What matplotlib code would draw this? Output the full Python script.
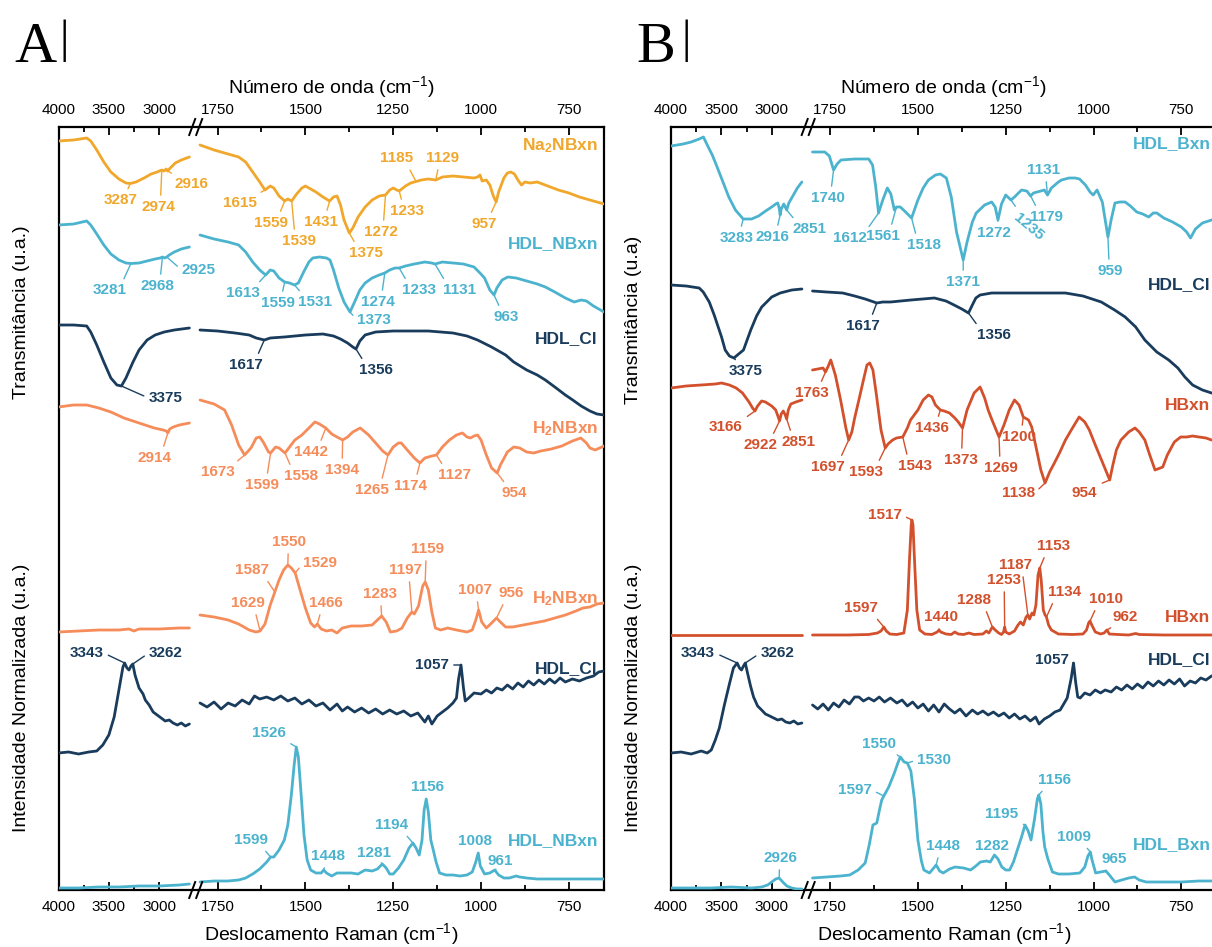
import numpy as np
import matplotlib
matplotlib.use("Agg")
import matplotlib.pyplot as plt

plt.rcParams.update({
    "font.family": ["Liberation Sans", "DejaVu Sans"],
    "mathtext.fontset": "custom",
    "mathtext.rm": "Liberation Sans",
    "mathtext.bf": "Liberation Sans:bold",
    "mathtext.it": "Liberation Sans:italic",
    "mathtext.default": "regular",
})

# ------------------------------------------------------------------
# Spectra (wavenumber / Raman shift in cm-1, intensity in a.u.)
# ------------------------------------------------------------------

# ---- Panel A : FTIR ----
na2_ir_hi_wn = [4000, 3850, 3720, 3680, 3620, 3550, 3480, 3400, 3330, 3287, 3230, 3150, 3080,
                3020, 2974, 2950, 2930, 2916, 2890, 2840, 2780, 2700]
na2_ir_hi_t = [94, 95, 97, 94, 85, 73, 63, 56, 52, 51.5, 53, 57, 61, 63, 65, 64, 66, 64, 67, 72, 75, 78]
na2_ir_lo_wn = [1800, 1760, 1720, 1690, 1670, 1650, 1630, 1615, 1600, 1590, 1575, 1559, 1550, 1539,
                1525, 1510, 1500, 1490, 1470, 1450, 1431, 1420, 1410, 1400, 1390, 1375, 1365, 1350,
                1330, 1310, 1290, 1272, 1260, 1250, 1240, 1233, 1215, 1200, 1185, 1170, 1150, 1129,
                1110, 1080, 1050, 1020, 1010, 1003, 997, 985, 975, 965, 957, 950, 935, 925, 915, 905,
                895, 885, 875, 860, 840, 810, 780, 750, 720, 690, 650]
na2_ir_lo_t = [90, 85, 81, 78, 73, 63, 53, 45, 49, 47, 39, 34, 36, 34, 41, 47, 49, 47, 43, 38, 34,
               38, 39, 30, 15, 2, 7, 18, 28, 35, 39, 40, 45, 47, 45, 44, 49, 52, 53.5, 55, 56, 55, 58,
               59, 58, 57, 58, 60, 54, 55, 50, 39, 33, 43, 57, 62, 63, 61, 55, 50, 53, 52, 53, 49, 45,
               42, 38, 35, 31]
na2_ir_peaks = [3287, 2974, 2916, 1615, 1559, 1539, 1431, 1375, 1272, 1233, 1185, 1129, 957]

hdlnb_ir_hi_wn = [4000, 3850, 3720, 3680, 3620, 3550, 3480, 3400, 3330, 3281, 3200, 3120, 3040, 2990,
                  2968, 2945, 2925, 2900, 2850, 2780, 2700]
hdlnb_ir_hi_t = [90, 91, 94, 90, 81, 70, 61, 55, 52, 51.5, 52, 54, 56, 57, 58, 57, 58, 60, 63, 66, 68]
hdlnb_ir_lo_wn = [1800, 1760, 1720, 1690, 1670, 1650, 1630, 1613, 1600, 1590, 1575, 1559, 1545, 1531,
                  1520, 1505, 1490, 1479, 1460, 1440, 1430, 1420, 1405, 1390, 1373, 1360, 1345, 1330,
                  1310, 1290, 1274, 1260, 1245, 1233, 1215, 1190, 1160, 1140, 1131, 1110, 1080, 1050,
                  1020, 1003, 990, 975, 963, 955, 940, 924, 900, 870, 840, 817, 790, 760, 735, 715,
                  700, 680, 650]
hdlnb_ir_lo_t = [80, 76, 73, 70, 63, 53, 45, 40, 45, 44, 37, 33, 32, 30, 32, 43, 53, 57, 58, 57, 55,
                 45, 27, 13, 3, 13, 25, 32, 37, 40, 42, 45, 47, 47, 49, 51, 53, 52, 51, 53, 52, 51, 48,
                 42, 37, 25, 20, 27, 35, 38, 37, 34, 31, 28, 23, 17, 13, 15, 14, 9, 3]
hdlnb_ir_peaks = [3281, 2968, 2925, 1613, 1559, 1531, 1373, 1274, 1233, 1131, 963]

cl_ir_hi_wn = [4000, 3850, 3720, 3680, 3620, 3550, 3480, 3420, 3375, 3330, 3260, 3200, 3120, 3040,
               2950, 2850, 2700]
cl_ir_hi_t = [91, 91, 90, 84, 71, 54, 38, 31, 30, 38, 54, 66, 76, 81, 84, 86, 88]
cl_ir_lo_wn = [1800, 1750, 1700, 1660, 1640, 1617, 1600, 1560, 1500, 1450, 1420, 1400, 1380, 1365,
               1356, 1345, 1330, 1300, 1250, 1150, 1080, 1040, 1010, 970, 930, 907, 870, 840, 817,
               790, 760, 739, 715, 690, 670, 650]
cl_ir_lo_t = [86, 85, 83, 81, 78, 76, 78, 79, 81, 82, 80, 77, 73, 69, 67, 75, 81, 84, 85, 85, 83, 80,
              76, 69, 61, 54, 46, 41, 36, 29, 21, 16, 10, 5, 2, 1]
cl_ir_peaks_a = [3375, 1617, 1356]

h2_ir_hi_wn = [4000, 3850, 3720, 3600, 3480, 3350, 3200, 3050, 2960, 2930, 2914, 2895, 2860, 2800, 2700]
h2_ir_hi_t = [68, 70, 70, 67, 63, 57, 52, 47, 45, 44, 42, 46, 48, 50, 52]
h2_ir_lo_wn = [1800, 1760, 1730, 1710, 1690, 1673, 1655, 1640, 1630, 1620, 1605, 1599, 1585, 1575,
               1558, 1545, 1530, 1510, 1490, 1473, 1460, 1442, 1425, 1410, 1394, 1380, 1365, 1344,
               1320, 1300, 1280, 1265, 1250, 1235, 1227, 1210, 1190, 1174, 1160, 1140, 1127, 1110,
               1090, 1070, 1053, 1040, 1030, 1020, 1010, 1000, 985, 970, 954, 945, 925, 907, 890,
               870, 850, 830, 800, 770, 740, 716, 700, 690, 675, 650]
h2_ir_lo_t = [75, 71, 65, 50, 30, 20, 27, 37, 38, 33, 23, 22, 28, 27, 22, 28, 35, 40, 47, 53, 51, 47,
              41, 38, 35, 38, 43, 47, 40, 32, 24, 20, 28, 32, 32, 25, 17, 12, 17, 19, 20, 28, 35, 40,
              42, 38, 37, 39, 40, 35, 20, 7, 2, 10, 23, 28, 27, 23, 22, 24, 26, 29, 34, 37, 32, 27,
              25, 29]
h2_ir_peaks = [2914, 1673, 1599, 1558, 1442, 1394, 1265, 1174, 1127, 954]

# ---- Panel A : Raman ----
h2_ra_hi_wn = [4000, 3800, 3600, 3400, 3300, 3250, 3200, 3000, 2800, 2700]
h2_ra_hi_i = [2, 3, 4, 4, 5, 3, 5, 5, 6, 6]
h2_ra_lo_wn = [1800, 1760, 1720, 1690, 1660, 1641, 1629, 1615, 1600, 1587, 1575, 1562, 1550, 1540,
               1529, 1515, 1500, 1485, 1474, 1466, 1455, 1440, 1425, 1410, 1395, 1370, 1340, 1310,
               1295, 1283, 1270, 1258, 1240, 1225, 1210, 1197, 1190, 1178, 1166, 1159, 1150, 1140,
               1130, 1115, 1095, 1070, 1040, 1025, 1015, 1007, 998, 985, 970, 956, 945, 930, 910,
               880, 850, 820, 790, 760, 730, 710, 690, 670, 650]
h2_ra_lo_i = [19, 17, 14, 10, 4, 2, 3, 10, 29, 42, 54, 64, 69, 66, 61, 44, 26, 11, 7, 10, 5, 3, 4, 1,
              6, 8, 8, 9, 14, 18, 12, 2, 3, 6, 16, 22, 20, 28, 48, 52, 44, 22, 6, 4, 6, 4, 2, 4, 14,
              24, 12, 6, 11, 16, 12, 7, 7, 9, 11, 13, 16, 19, 23, 26, 27, 30, 31]
h2_ra_peaks = [1629, 1587, 1550, 1529, 1466, 1283, 1197, 1159, 1007, 956]

cl_ra_hi_wn_a = [4000, 3900, 3800, 3700, 3620, 3560, 3500, 3447, 3400, 3360, 3343, 3320, 3300, 3280,
                 3262, 3240, 3200, 3160, 3138, 3100, 3060, 3020, 2980, 2940, 2900, 2862, 2820, 2780,
                 2740, 2700]
cl_ra_hi_i_a = [1, 2, 0, 2, 3, 9, 19, 37, 64, 87, 91, 86, 84, 88, 90, 79, 66, 60, 54, 49, 42, 39, 36,
                33, 34, 31, 29, 31, 28, 30]
cl_ra_lo_wn_a = [1800, 1780, 1760, 1740, 1720, 1700, 1680, 1660, 1645, 1630, 1610, 1590, 1570, 1550,
                 1530, 1510, 1490, 1470, 1450, 1430, 1410, 1395, 1380, 1360, 1340, 1320, 1300, 1280,
                 1260, 1240, 1220, 1200, 1180, 1160, 1150, 1140, 1125, 1110, 1095, 1080, 1070, 1064,
                 1057, 1050, 1045, 1035, 1020, 1000, 985, 970, 955, 940, 925, 910, 895, 880, 865, 850,
                 835, 820, 805, 790, 775, 760, 740, 720, 700, 680, 665, 650]
cl_ra_lo_i_a = [51, 47, 52, 45, 51, 48, 54, 50, 58, 55, 57, 54, 58, 53, 56, 50, 54, 48, 51, 44, 50,
                43, 47, 42, 46, 41, 45, 40, 44, 40, 43, 38, 41, 32, 38, 30, 38, 42, 46, 51, 56, 75,
                89, 66, 53, 56, 61, 60, 64, 61, 66, 64, 69, 65, 71, 67, 73, 69, 74, 70, 75, 71, 76,
                72, 75, 73, 76, 78, 82, 83]
cl_ra_peaks_a = [3343, 3262, 1057]

hdlnb_ra_hi_wn = [4000, 3800, 3600, 3400, 3200, 3000, 2800, 2700]
hdlnb_ra_hi_i = [1, 1, 2, 2, 3, 3, 4, 5]
hdlnb_ra_lo_wn = [1800, 1760, 1720, 1690, 1670, 1650, 1630, 1610, 1599, 1590, 1575, 1560, 1550, 1540,
                  1532, 1526, 1520, 1512, 1504, 1495, 1485, 1470, 1455, 1448, 1440, 1425, 1410, 1390,
                  1370, 1350, 1330, 1310, 1295, 1281, 1270, 1260, 1250, 1235, 1220, 1205, 1194, 1185,
                  1176, 1168, 1162, 1156, 1150, 1143, 1136, 1128, 1118, 1100, 1080, 1060, 1040, 1025,
                  1015, 1008, 1002, 990, 975, 961, 950, 935, 920, 900, 890, 870, 840, 800, 750, 700,
                  650]
hdlnb_ra_lo_i = [7, 8, 8, 9, 11, 15, 20, 27, 32, 32, 39, 49, 64, 94, 124, 142, 132, 94, 54, 29, 19,
                 16, 16, 19, 16, 13, 16, 16, 16, 15, 19, 18, 20, 25, 21, 15, 15, 21, 29, 41, 46, 41,
                 34, 49, 79, 90, 77, 49, 39, 27, 16, 14, 14, 13, 14, 17, 27, 36, 23, 15, 16, 19, 14,
                 11, 11, 13, 12, 11, 10, 10, 10, 10, 10]
hdlnb_ra_peaks = [1599, 1526, 1448, 1281, 1194, 1156, 1008, 961]

# ---- Panel B : FTIR ----
hdlb_ir_hi_wn = [4000, 3880, 3800, 3720, 3678, 3640, 3590, 3542, 3480, 3426, 3360, 3283, 3200, 3130,
                 3060, 3000, 2960, 2940, 2925, 2916, 2905, 2880, 2865, 2851, 2830, 2790, 2745, 2700]
hdlb_ir_hi_t = [116, 118, 120, 123, 125, 117, 107, 95, 79, 65, 52, 43, 43, 46, 51, 55, 58, 59, 54, 47,
                53, 58, 55, 52, 59, 66, 74, 80]
hdlb_ir_lo_wn = [1800, 1765, 1752, 1740, 1730, 1719, 1680, 1640, 1629, 1620, 1612, 1600, 1587, 1577,
                 1567, 1561, 1550, 1535, 1518, 1500, 1485, 1470, 1450, 1436, 1419, 1405, 1390, 1371,
                 1360, 1345, 1334, 1310, 1290, 1280, 1272, 1262, 1250, 1235, 1225, 1205, 1190, 1179,
                 1171, 1150, 1140, 1131, 1120, 1100, 1091, 1070, 1052, 1040, 1023, 1010, 1001, 990,
                 975, 959, 950, 939, 925, 910, 895, 877, 860, 843, 830, 820, 800, 775, 750, 735, 724,
                 710, 690, 664, 650]
hdlb_ir_lo_t = [110, 110, 106, 92, 98, 102, 103, 103, 97, 75, 49, 62, 74, 68, 52, 55, 55, 50, 44, 62,
                74, 82, 87, 88, 84, 65, 30, 2, 20, 40, 49, 57, 60, 55, 42, 58, 67, 62, 65, 72, 71,
                66, 69, 71, 72, 67, 74, 80, 82, 84, 84, 83, 77, 70, 67, 72, 60, 25, 42, 59, 60, 60,
                56, 50, 48, 45, 49, 49, 44, 40, 35, 30, 24, 33, 39, 42, 44]
hdlb_ir_peaks = [3283, 2916, 2851, 1740, 1612, 1561, 1518, 1371, 1272, 1235, 1179, 1131, 959]

cl_ir_hi_wn_b = [4000, 3850, 3720, 3680, 3620, 3571, 3498, 3462, 3420, 3375, 3340, 3280, 3208, 3150,
                 3099, 3000, 2916, 2800, 2700]
cl_ir_hi_t_b = [110, 109, 107, 103, 93, 80, 58, 45, 39, 37, 40, 45, 65, 79, 88, 98, 102, 105, 106]
cl_ir_lo_wn_b = [1800, 1760, 1714, 1680, 1650, 1617, 1600, 1578, 1520, 1453, 1420, 1397, 1375, 1356,
                 1345, 1335, 1323, 1290, 1250, 1150, 1080, 1030, 978, 940, 910, 880, 854, 820, 786,
                 760, 740, 718, 690, 664, 650]
cl_ir_lo_t_b = [104, 103, 102, 99, 96, 92, 93, 93, 95, 97, 94, 90, 86, 82, 90, 97, 100, 102, 102, 102,
                102, 99, 93, 85, 78, 68, 55, 43, 35, 27, 18, 10, 5, 2, 1]
cl_ir_peaks_b = [3375, 1617, 1356]

hb_ir_hi_wn = [4000, 3850, 3700, 3560, 3498, 3420, 3353, 3290, 3225, 3190, 3166, 3140, 3100, 3062,
               3000, 2960, 2935, 2922, 2905, 2885, 2865, 2851, 2835, 2810, 2760, 2700]
hb_ir_hi_t = [97, 99, 100, 101, 102, 100, 97, 92, 83, 77, 74, 79, 84, 83, 79, 75, 68, 64, 71, 74, 70,
              66, 75, 81, 83, 85]
hb_ir_lo_wn = [1800, 1785, 1770, 1763, 1755, 1748, 1735, 1720, 1705, 1697, 1688, 1680, 1668, 1655,
               1645, 1637, 1628, 1618, 1605, 1593, 1585, 1572, 1561, 1543, 1530, 1521, 1500, 1485,
               1470, 1460, 1450, 1436, 1425, 1410, 1395, 1385, 1373, 1360, 1340, 1323, 1310, 1300,
               1289, 1269, 1255, 1240, 1225, 1212, 1200, 1185, 1176, 1165, 1150, 1138, 1125, 1110,
               1097, 1080, 1060, 1041, 1025, 1012, 995, 975, 954, 945, 935, 922, 900, 882, 870, 854,
               840, 825, 810, 803, 790, 770, 752, 735, 718, 700, 680, 664, 650]
hb_ir_lo_t = [115, 116, 117, 113, 119, 125, 110, 85, 57, 45, 53, 67, 85, 105, 120, 122, 115, 90, 55,
              37, 41, 45, 47, 48, 57, 65, 75, 85, 90, 88, 80, 75, 74, 72, 67, 63, 57, 75, 92, 98, 87,
              75, 65, 48, 60, 75, 85, 80, 68, 65, 58, 40, 15, 2, 13, 23, 32, 45, 57, 68, 63, 55, 40,
              23, 5, 20, 35, 45, 53, 57, 53, 45, 30, 15, 17, 18, 30, 43, 48, 48, 49, 48, 47, 45, 44]
hb_ir_peaks = [3166, 2922, 2851, 1763, 1697, 1593, 1543, 1436, 1373, 1269, 1200, 1138, 954]

# ---- Panel B : Raman ----
hb_ra_hi_wn = [4000, 3500, 3000, 2700]
hb_ra_hi_i = [0, 0, 0, 0]
hb_ra_lo_wn = [1800, 1700, 1640, 1615, 1605, 1597, 1590, 1580, 1560, 1540, 1530, 1524, 1519, 1517,
               1514, 1509, 1503, 1495, 1480, 1460, 1445, 1440, 1435, 1420, 1405, 1395, 1385, 1370,
               1355, 1340, 1315, 1305, 1298, 1288, 1280, 1270, 1262, 1256, 1253, 1250, 1240, 1225,
               1215, 1208, 1200, 1192, 1187, 1182, 1175, 1170, 1164, 1158, 1153, 1149, 1143, 1138,
               1134, 1128, 1120, 1100, 1060, 1030, 1020, 1014, 1010, 1005, 995, 980, 970, 962, 955,
               930, 900, 880, 870, 800, 700, 650]
hb_ra_lo_i = [0, 0, 0.5, 2, 4, 8, 4, 1, 0.5, 2, 25, 75, 110, 115, 110, 70, 25, 5, 1, 0.5, 3, 5, 3, 1,
              0.5, 3, 1, 0.5, 2, 0.5, 1, 4, 2, 8, 5, 2, 0.5, 3, 8, 3, 1, 4, 10, 13, 10, 18, 20, 16,
              22, 20, 30, 60, 67, 55, 25, 20, 18, 10, 5, 1, 0.5, 1, 5, 12, 14, 10, 3, 1, 2, 5, 1,
              0.5, 0, 1.5, 0.5, 0, 0, 0]
hb_ra_peaks = [1597, 1517, 1440, 1288, 1253, 1187, 1153, 1134, 1010, 962]

cl_ra_hi_wn_b = [4000, 3900, 3800, 3700, 3640, 3600, 3560, 3520, 3470, 3420, 3380, 3343, 3320, 3300,
                 3280, 3262, 3240, 3210, 3180, 3140, 3100, 3062, 3020, 2980, 2940, 2900, 2860, 2820,
                 2780, 2740, 2700]
cl_ra_hi_i_b = [1, 2, 0, 3, 1, 4, 14, 26, 49, 70, 86, 91, 86, 84, 88, 91, 81, 68, 57, 48, 44, 40, 38,
                36, 34, 35, 32, 31, 33, 30, 31]
cl_ra_lo_wn_b = [1800, 1785, 1770, 1755, 1740, 1725, 1710, 1695, 1680, 1668, 1655, 1640, 1625, 1610,
                 1595, 1578, 1560, 1545, 1530, 1515, 1500, 1485, 1470, 1455, 1440, 1425, 1410, 1395,
                 1380, 1363, 1345, 1330, 1315, 1300, 1285, 1270, 1255, 1240, 1225, 1210, 1195, 1180,
                 1165, 1155, 1140, 1125, 1110, 1095, 1085, 1075, 1064, 1057, 1051, 1045, 1038, 1025,
                 1010, 995, 980, 967, 950, 935, 920, 905, 890, 875, 860, 845, 830, 815, 800, 785, 770,
                 755, 741, 725, 710, 695, 680, 664, 650]
cl_ra_lo_i_b = [49, 45, 50, 44, 51, 47, 54, 50, 57, 57, 53, 56, 53, 57, 52, 56, 51, 54, 48, 52, 46,
                50, 43, 49, 42, 50, 45, 41, 45, 38, 44, 40, 43, 39, 42, 38, 41, 36, 40, 35, 38, 33,
                37, 30, 35, 38, 42, 44, 50, 56, 75, 91, 72, 57, 56, 61, 59, 64, 61, 64, 62, 67, 64,
                69, 65, 70, 66, 72, 68, 73, 69, 74, 70, 75, 68, 73, 71, 76, 74, 78, 80]
cl_ra_peaks_b = [3343, 3262, 1057]

hdlb_ra_hi_wn = [4000, 3800, 3600, 3400, 3200, 3100, 3040, 3000, 2960, 2926, 2890, 2850, 2800, 2750, 2700]
hdlb_ra_hi_i = [1, 1, 1, 2, 1, 2, 4, 7, 10, 11, 7, 3, 1, 0, 0]
hdlb_ra_lo_wn = [1800, 1760, 1720, 1694, 1670, 1650, 1638, 1628, 1617, 1610, 1603, 1597, 1583, 1567,
                 1557, 1550, 1539, 1530, 1520, 1510, 1500, 1490, 1483, 1467, 1455, 1448, 1438, 1428,
                 1410, 1394, 1370, 1350, 1335, 1322, 1305, 1294, 1282, 1272, 1261, 1250, 1239, 1228,
                 1217, 1205, 1195, 1186, 1178, 1168, 1160, 1156, 1150, 1144, 1139, 1130, 1117, 1100,
                 1070, 1039, 1025, 1016, 1009, 1005, 994, 980, 965, 955, 939, 920, 900, 883, 870, 850,
                 800, 750, 700, 650]
hdlb_ra_lo_i = [11, 12, 13, 14, 19, 26, 45, 64, 66, 78, 89, 93, 102, 116, 126, 132, 127, 126, 118, 90,
                49, 28, 19, 16, 21, 24, 18, 16, 20, 22, 21, 19, 23, 27, 28, 27, 34, 30, 22, 19, 19,
                27, 39, 52, 64, 58, 49, 70, 90, 94, 85, 57, 42, 30, 17, 15, 15, 16, 22, 33, 37, 30,
                16, 17, 18, 14, 7, 9, 11, 12, 9, 7, 7, 7, 8, 8]
hdlb_ra_peaks = [2926, 1597, 1550, 1530, 1448, 1282, 1195, 1156, 1009, 965]

# ------------------------------------------------------------------
# Layout / style
# ------------------------------------------------------------------
C_NA2 = "#F0A72B"
C_HDL = "#4CB3CE"
C_CL = "#1A3C5C"
C_H2 = "#F58C5A"
C_HB = "#D3502C"

FIG_W, FIG_H = 1212, 947
AX_H_PX = 763.0

# broken wavenumber axis: high-frequency block, gap, fingerprint block (widths in px)
HI_START, HI_END, HI_W = 4000.0, 2680.0, 132.9
GAP_W = 8.6
LO_START, LO_END, LO_W = 1800.0, 650.0, 404.0
TOTAL_W = HI_W + GAP_W + LO_W


def _dist(x):
    """Distance (px) from the 4000 cm-1 edge along the broken axis."""
    x = np.asarray(x, dtype=float)
    u_hi = (HI_START - x) * HI_W / (HI_START - HI_END)
    u_gap = HI_W + (HI_END - x) * GAP_W / (HI_END - LO_START)
    u_lo = HI_W + GAP_W + (LO_START - x) * LO_W / (LO_START - LO_END)
    return np.where(x >= HI_END, u_hi, np.where(x >= LO_START, u_gap, u_lo))


def to_axis(x):
    # increasing in x; the axis is shown inverted (high wavenumber on the left)
    return -_dist(x)


def from_axis(v):
    u = -np.asarray(v, dtype=float)
    x_hi = HI_START - u * (HI_START - HI_END) / HI_W
    x_gap = HI_END - (u - HI_W) * (HI_END - LO_START) / GAP_W
    x_lo = LO_START - (u - HI_W - GAP_W) * (LO_START - LO_END) / LO_W
    return np.where(u <= HI_W, x_hi, np.where(u <= HI_W + GAP_W, x_gap, x_lo))


MAJOR = [4000, 3500, 3000, 1750, 1500, 1250, 1000, 750]
MINOR = [3750, 3250, 1625, 1375, 1125, 875]


def px_box(left, top, right, bottom):
    return [left / FIG_W, 1 - bottom / FIG_H, (right - left) / FIG_W, (bottom - top) / FIG_H]


def setup_axes(ax, ylab_top, ylab_bottom):
    ax.set_xscale("function", functions=(to_axis, from_axis))
    ax.set_xlim(4000, 650)
    ax.set_ylim(0, AX_H_PX)
    ax.set_yticks([])
    ax.set_xticks(MAJOR, labels=[str(t) for t in MAJOR])
    ax.set_xticks(MINOR, minor=True)
    ax.tick_params(axis="x", which="both", direction="in", top=True, bottom=True,
                   labeltop=True, labelbottom=True, labelsize=11, pad=7, width=1.3)
    ax.tick_params(axis="x", which="major", length=6)
    ax.tick_params(axis="x", which="minor", length=3.5)
    for sp in ax.spines.values():
        sp.set_linewidth(1.6)
    ax.text(0.5, 1 + 40 / AX_H_PX, "Número de onda (cm$^{-1}$)", transform=ax.transAxes,
            ha="center", va="center", fontsize=14)
    ax.text(0.5, -44 / AX_H_PX, "Deslocamento Raman (cm$^{-1}$)", transform=ax.transAxes,
            ha="center", va="center", fontsize=14)
    ax.text(-37 / TOTAL_W, ylab_top[1], ylab_top[0], transform=ax.transAxes, rotation=90,
            ha="center", va="center", fontsize=14)
    ax.text(-37 / TOTAL_W, ylab_bottom[1], ylab_bottom[0], transform=ax.transAxes, rotation=90,
            ha="center", va="center", fontsize=14)
    # break marks on the top and bottom spines
    xc = (HI_W + GAP_W / 2) / TOTAL_W
    for yb in (0.0, 1.0):
        for s in (-3.5, 3.5):
            x0 = xc + (s - 3) / TOTAL_W
            x1 = xc + (s + 3) / TOTAL_W
            ax.plot([x0, x1], [yb - 8 / AX_H_PX, yb + 8 / AX_H_PX], color="black", lw=1.4,
                    transform=ax.transAxes, clip_on=False, zorder=5)


def relpos_for(dx, dy):
    if abs(dy) < 8 or abs(dy) < 0.45 * abs(dx):
        return (1.0 if dx < 0 else 0.0, 0.5)
    rx = 0.5 - 0.5 * np.clip(dx / 30.0, -1, 1)
    ry = 1.0 if dy > 0 else 0.0
    return (rx, ry)


def draw_spectrum(ax, segments, shift, color, peaks=(), tags=(), rotations=None):
    all_wn, all_val = [], []
    for wn, val in segments:
        wn = np.asarray(wn, dtype=float)
        val = np.asarray(val, dtype=float)
        ax.plot(wn, val + shift, color=color, lw=2.0, solid_joinstyle="round",
                solid_capstyle="round", zorder=3)
        all_wn.append(wn)
        all_val.append(val)
    all_wn = np.concatenate(all_wn)
    all_val = np.concatenate(all_val)
    order = np.argsort(all_wn)
    rotations = rotations or {}
    for pk, (dx, dy) in zip(peaks, tags):
        y = np.interp(pk, all_wn[order], all_val[order]) + shift
        ax.annotate(str(pk), xy=(pk, y), xytext=(dx, -dy), textcoords="offset pixels",
                    ha="center", va="center", fontsize=11, fontweight="bold", color=color,
                    rotation=rotations.get(pk, 0),
                    arrowprops=dict(arrowstyle="-", color=color, lw=1.0, shrinkA=1.5, shrinkB=0.5,
                                    relpos=relpos_for(dx, dy)), zorder=4)


def name_tag(ax, text, y, color):
    ax.text(1 - 6 / TOTAL_W, y, text, transform=ax.get_yaxis_transform(), ha="right",
            va="center", fontsize=12.5, fontweight="bold", color=color)


fig = plt.figure(figsize=(FIG_W / 100, FIG_H / 100), dpi=100)
ax_a = fig.add_axes(px_box(58.5, 127, 604, 890))
ax_b = fig.add_axes(px_box(671, 127, 671 + TOTAL_W, 890))

setup_axes(ax_a, ("Transmitância (u.a.)", (890 - 312) / AX_H_PX),
           ("Intensidade Normalizada (u.a.)", (890 - 698) / AX_H_PX))
setup_axes(ax_b, ("Transmitância (u.a)", (890 - 320) / AX_H_PX),
           ("Intensidade Normalizada (u.a.)", (890 - 698) / AX_H_PX))

# ---------------- Panel A ----------------
draw_spectrum(ax_a, [(na2_ir_hi_wn, na2_ir_hi_t), (na2_ir_lo_wn, na2_ir_lo_t)], 655, C_NA2,
              na2_ir_peaks,
              [(-10, 17), (-3, 37), (24, 13), (-25, 13), (-14, 22), (7, 40), (-9, 21), (17, 20),
               (-5, 37), (8, 20), (-19, -23), (7, -22), (-12, 22)])
draw_spectrum(ax_a, [(hdlnb_ir_hi_wn, hdlnb_ir_hi_t), (hdlnb_ir_lo_wn, hdlnb_ir_lo_t)], 575, C_HDL,
              hdlnb_ir_peaks,
              [(-21, 27), (-5, 29), (32, 13), (-23, 18), (-7, 21), (20, 17), (24, 8), (-7, 29),
               (20, 22), (25, 26), (12, 22)])
draw_spectrum(ax_a, [(cl_ir_hi_wn, cl_ir_hi_t), (cl_ir_lo_wn, cl_ir_lo_t)], 474, C_CL,
              cl_ir_peaks_a, [(44, 12), (-18, 25), (20, 21)])
draw_spectrum(ax_a, [(h2_ir_hi_wn, h2_ir_hi_t), (h2_ir_lo_wn, h2_ir_lo_t)], 415, C_H2,
              h2_ir_peaks,
              [(-13, 25), (-27, 17), (-9, 32), (16, 23), (-15, 24), (-1, 30), (-16, 35), (-9, 23),
               (18, 20), (17, 20)])
draw_spectrum(ax_a, [(h2_ra_hi_wn, h2_ra_hi_i), (h2_ra_lo_wn, h2_ra_lo_i)], 256, C_H2,
              h2_ra_peaks,
              [(-12, -28), (-23, -22), (1, -23), (25, -10), (9, -21), (-2, -22), (-6, -42),
               (2, -33), (-4, -20), (15, -25)])
draw_spectrum(ax_a, [(cl_ra_hi_wn_a, cl_ra_hi_i_a), (cl_ra_lo_wn_a, cl_ra_lo_i_a)], 136, C_CL,
              cl_ra_peaks_a, [(-38, -10), (33, -11), (-29, 0)])
draw_spectrum(ax_a, [(hdlnb_ra_hi_wn, hdlnb_ra_hi_i), (hdlnb_ra_lo_wn, hdlnb_ra_lo_i)], 1, C_HDL,
              hdlnb_ra_peaks,
              [(-20, -17), (-27, -14), (4, -14), (-8, -11), (-21, -18), (1, -12), (-3, -12),
               (5, -9)])

name_tag(ax_a, r"$\mathbf{Na_2NBxn}$", 744, C_NA2)
name_tag(ax_a, "HDL_NBxn", 646, C_HDL)
name_tag(ax_a, "HDL_Cl", 551, C_CL)
name_tag(ax_a, r"$\mathbf{H_2NBxn}$", 461, C_H2)
name_tag(ax_a, r"$\mathbf{H_2NBxn}$", 291, C_H2)
name_tag(ax_a, "HDL_Cl", 221, C_CL)
name_tag(ax_a, "HDL_NBxn", 49, C_HDL)

# ---------------- Panel B ----------------
draw_spectrum(ax_b, [(hdlb_ir_hi_wn, hdlb_ir_hi_t), (hdlb_ir_lo_wn, hdlb_ir_lo_t)], 628, C_HDL,
              hdlb_ir_peaks,
              [(-7, 19), (-8, 22), (23, 19), (-6, 28), (-29, 25), (-14, 29), (12, 27), (0, 22),
               (-4, 13), (18, 27), (16, 21), (-4, -25), (2, 34)], rotations={1235: -40})
draw_spectrum(ax_b, [(cl_ir_hi_wn_b, cl_ir_hi_t_b), (cl_ir_lo_wn_b, cl_ir_lo_t_b)], 495, C_CL,
              cl_ir_peaks_b, [(12, 13), (-14, 23), (25, 22)])
draw_spectrum(ax_b, [(hb_ir_hi_wn, hb_ir_hi_t), (hb_ir_lo_wn, hb_ir_lo_t)], 405, C_HB,
              hb_ir_peaks,
              [(-29, 16), (-19, 24), (12, 23), (-14, 21), (-21, 27), (-19, 24), (12, 29), (-8, 18),
               (-2, 32), (2, 31), (-4, 20), (-27, 10), (-25, 13)])
draw_spectrum(ax_b, [(hb_ra_hi_wn, hb_ra_hi_i), (hb_ra_lo_wn, hb_ra_lo_i)], 255, C_HB,
              hb_ra_peaks,
              [(-23, -19), (-27, -5), (2, -13), (-18, -27), (-1, -47), (-12, -50), (14, -22),
               (18, -25), (16, -22), (18, -13)])
draw_spectrum(ax_b, [(cl_ra_hi_wn_b, cl_ra_hi_i_b), (cl_ra_lo_wn_b, cl_ra_lo_i_b)], 136, C_CL,
              cl_ra_peaks_b, [(-39, -10), (32, -10), (-22, -3)])
draw_spectrum(ax_b, [(hdlb_ra_hi_wn, hdlb_ra_hi_i), (hdlb_ra_lo_wn, hdlb_ra_lo_i)], 1, C_HDL,
              hdlb_ra_peaks,
              [(1, -20), (-29, -6), (-21, -13), (27, -3), (7, -19), (-2, -9), (-23, -11), (16, -15),
               (-16, -15), (8, -12)])

name_tag(ax_b, "HDL_Bxn", 746, C_HDL)
name_tag(ax_b, "HDL_Cl", 605, C_CL)
name_tag(ax_b, "HBxn", 485, C_HB)
name_tag(ax_b, "HBxn", 272, C_HB)
name_tag(ax_b, "HDL_Cl", 230, C_CL)
name_tag(ax_b, "HDL_Bxn", 45, C_HDL)

# panel tags
for x0, letter in ((14, "A"), (636, "B")):
    fig.text(x0 / FIG_W, 1 - 62 / FIG_H, letter, fontsize=42, family="Liberation Serif",
             ha="left", va="baseline")
    fig.text((x0 + 50) / FIG_W, 1 - 41 / FIG_H, "|", fontsize=34, family="Liberation Serif",
             ha="center", va="center")

fig.savefig("out.png", dpi=100, facecolor="white")
